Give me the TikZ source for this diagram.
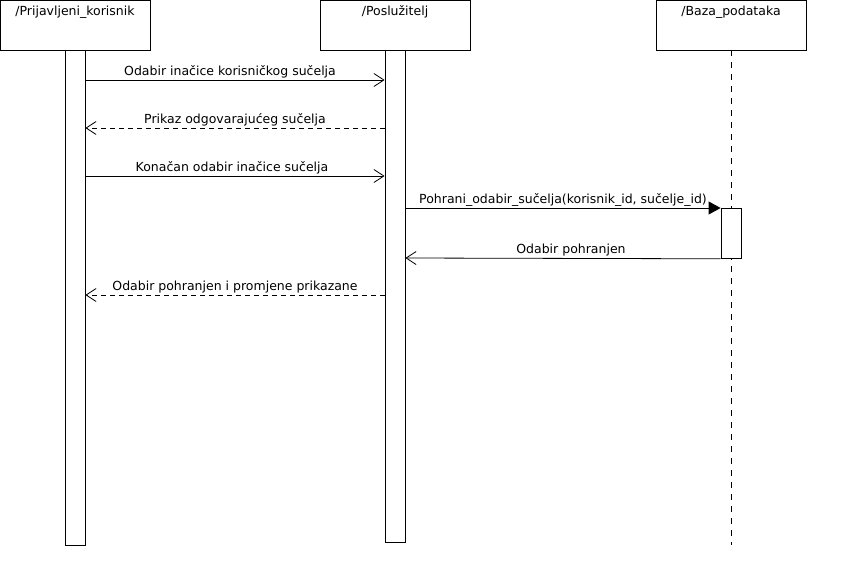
\documentclass[tikz,border=0pt]{standalone}
\usepackage{fontspec}
\setmainfont{DejaVu Sans}
\usetikzlibrary{positioning,arrows.meta}
\tikzset{
  head/.style={draw,rectangle,minimum width=150pt,minimum height=50pt,inner sep=0pt},
  bar/.style={draw,fill=white,rectangle,minimum width=20pt,inner sep=0pt},
  msg/.style={line width=0.8pt,-{Straight Barb[length=10pt,width=13pt,line width=0.8pt]}},
  call/.style={line width=0.8pt,-{Triangle[length=12pt,width=13pt]}},
  ret/.style={msg,dash pattern=on 5pt off 4pt},
  txt/.style={above,font=\fontsize{12.5}{14}\selectfont,inner sep=1.5pt},
  headtxt/.style={anchor=north,inner sep=4pt,yshift=-2pt,font=\fontsize{12.5}{14}\selectfont}
}

\begin{document}
\begin{tikzpicture}[x=1pt,y=-1pt,line width=0.8pt]
\useasboundingbox (0,0) rectangle (844,586);
% glave
\node[head,label={[headtxt]north:/Prijavljeni\_korisnik}] (korisnik) at (75,25) {};
\node[head,label={[headtxt]north:/Poslužitelj}] (posluzitelj) at (395,25) {};
\node[head,label={[headtxt]north:/Baza\_podataka}] (baza) at (731,25) {};
% zivotne linije
\node[bar,minimum height=495pt,anchor=north] (k) at (korisnik.south) {};
\node[bar,minimum height=492pt,anchor=north] (p) at (posluzitelj.south) {};
\coordinate (bkraj) at (731,545);
\draw[dash pattern=on 6pt off 6pt] (baza.south) -- (bkraj);
\node[bar,minimum height=50pt,anchor=north] (b) at (731,208) {};
% poruke
\draw[msg] (k.east |- 0,80) -- node[txt,xshift=-5pt] {Odabir inačice korisničkog sučelja} (p.west |- 0,80);
\draw[ret] (p.west |- 0,128) -- node[txt] {Prikaz odgovarajućeg sučelja} (k.east |- 0,128);
\draw[msg] (k.east |- 0,176) -- node[txt,xshift=-3pt] {Konačan odabir inačice sučelja} (p.west |- 0,176);
\draw[call] (p.east |- 0,208) -- node[txt] {Pohrani\_odabir\_sučelja(korisnik\_id, sučelje\_id)} (b.north west);
\draw[msg] (b.south west) -- node[txt,xshift=8pt] {Odabir pohranjen} (p.east |- 0,258);
\draw[ret] (p.west |- 0,295) -- node[txt] {Odabir pohranjen i promjene prikazane} (k.east |- 0,295);
\end{tikzpicture}
\end{document}
